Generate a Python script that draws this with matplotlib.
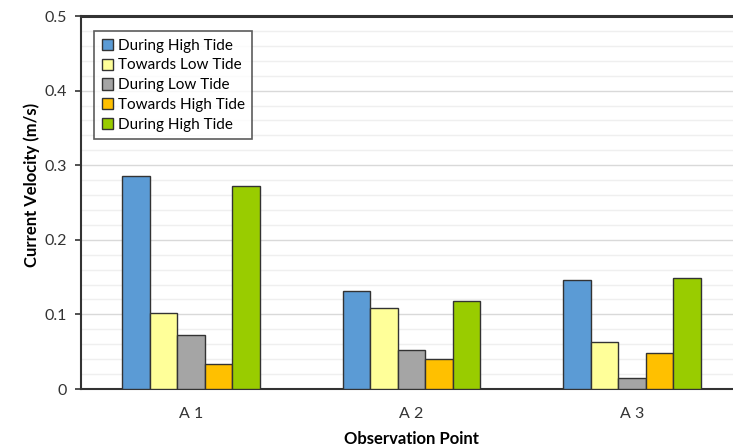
import matplotlib.pyplot as plt
import numpy as np

plt.rcParams['font.family'] = ['Lato', 'DejaVu Sans']

points = ["A 1", "A 2", "A 3"]
labels = ["During High Tide", "Towards Low Tide", "During Low Tide",
          "Towards High Tide", "During High Tide"]
high1 = [0.285, 0.131, 0.146]
to_low = [0.102, 0.109, 0.063]
low = [0.072, 0.052, 0.015]
to_high = [0.033, 0.040, 0.048]
high2 = [0.272, 0.118, 0.149]
colors = ["#5b9bd5", "#ffff99", "#a5a5a5", "#ffc000", "#99cc00"]

series = [high1, to_low, low, to_high, high2]

fig = plt.figure(figsize=(7.33, 4.48), dpi=100)
# the plot area runs a little past the right edge of the figure
ax = fig.add_axes([81/733, 59/448, 661/733, 373/448])

x = np.arange(len(points))
w = 0.125
for i, (vals, c, lab) in enumerate(zip(series, colors, labels)):
    ax.bar(x + (i - 2) * w, vals, w, color=c, edgecolor="#333333",
           linewidth=1.0, label=lab, zorder=3)

ax.set_xlim(-0.5, 2.5)
ax.set_ylim(0, 0.5)
ax.set_yticks([0, 0.1, 0.2, 0.3, 0.4, 0.5])
ax.set_yticklabels(["0", "0.1", "0.2", "0.3", "0.4", "0.5"])
ax.set_yticks(np.arange(0, 0.5, 0.02), minor=True)
ax.grid(axis="y", which="minor", color="#efefef", linewidth=1.0, zorder=0)
ax.grid(axis="y", which="major", color="#d9d9d9", linewidth=1.0, zorder=0)
ax.tick_params(axis="y", which="minor", length=0)
ax.tick_params(axis="y", which="major", length=4, width=1.2, color="#333333",
               labelsize=11.5, labelcolor="#333333", pad=6)
ax.set_xticks(x)
ax.set_xticklabels(points)
ax.tick_params(axis="x", length=0, labelsize=11.5, labelcolor="#333333", pad=13)

for s in ["left", "bottom", "top"]:
    ax.spines[s].set_color("#333333")
    ax.spines[s].set_linewidth(1.5)
ax.spines["top"].set_linewidth(2.2)
ax.spines["right"].set_visible(False)

ax.set_xlabel("Observation Point", fontsize=12, fontweight="bold", labelpad=7)
ax.set_ylabel("Current Velocity (m/s)", fontsize=12, fontweight="bold")
ax.yaxis.set_label_coords(-0.062, 0.547)

leg = ax.legend(loc="upper left", bbox_to_anchor=(13/661, 358/373), borderaxespad=0,
                fontsize=11, frameon=True, fancybox=False, edgecolor="#333333",
                handlelength=0.75, handleheight=0.75, handletextpad=0.3,
                labelspacing=0.38, borderpad=0.5)
leg.get_frame().set_linewidth(1.2)

fig.savefig("out.png", dpi=100)
